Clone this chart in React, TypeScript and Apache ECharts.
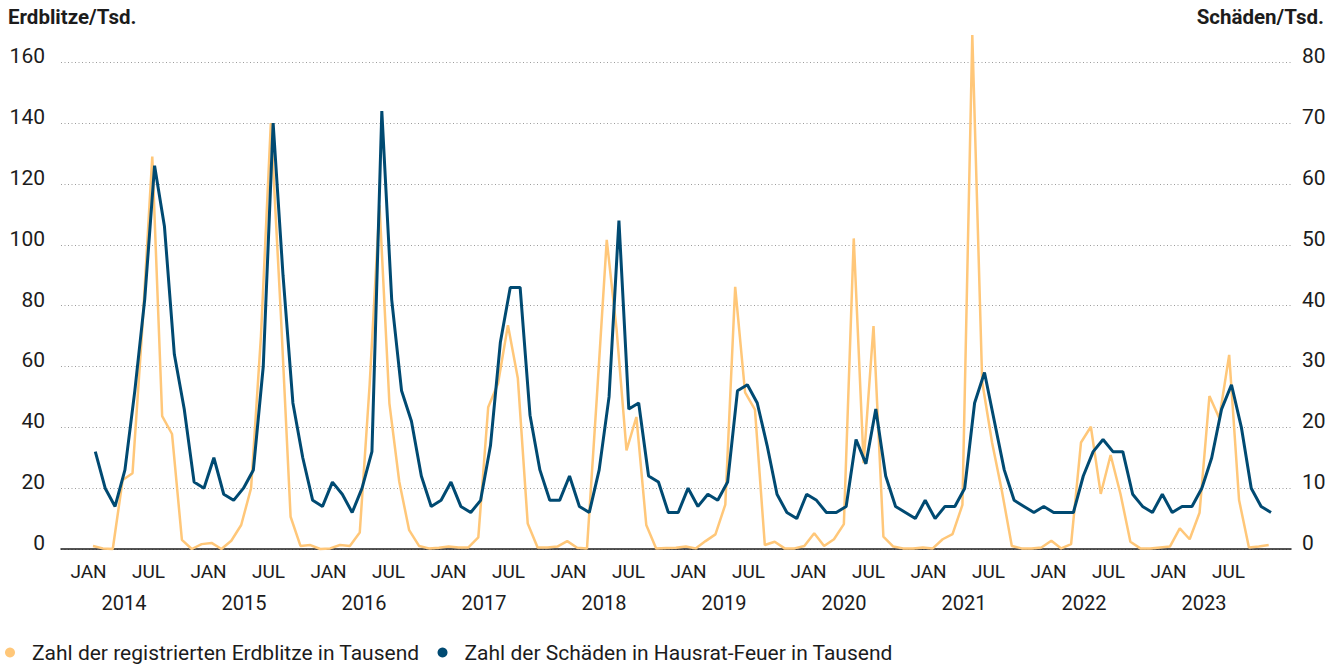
import React, { useEffect, useRef } from "react";
import * as echarts from "echarts";

// ---- data (thousands per month, Jan 2014 – Dec 2023) ----
const years = [2014, 2015, 2016, 2017, 2018, 2019, 2020, 2021, 2022, 2023];
const monthNames = ["JAN", "FEB", "MRZ", "APR", "MAI", "JUN", "JUL", "AUG", "SEP", "OKT", "NOV", "DEZ"];

const erdblitzeByYear = [
  [1.0, 0.2, 0.0, 22.7, 24.9, 73, 129, 43.7, 37.8, 3.0, 0.0, 1.6],
  [2.0, 0.0, 2.7, 7.9, 20.0, 70, 140, 78, 10.6, 1.0, 1.3, 0.0],
  [0.2, 1.3, 1.0, 5.4, 54, 113, 47.9, 22.1, 6.2, 1.0, 0.2, 0.4],
  [0.8, 0.5, 0.5, 3.8, 46.6, 54.5, 73.6, 56.1, 8.4, 0.5, 0.5, 0.8],
  [2.6, 0.4, 0.2, 50, 101.6, 72, 32.4, 43.4, 7.9, 0.2, 0.3, 0.4],
  [0.8, 0.2, 2.6, 4.8, 14.6, 86.2, 51.5, 45.8, 1.3, 2.4, 0.2, 0.2],
  [1.0, 5.2, 1.0, 3.2, 8.2, 102.1, 28.2, 73.3, 4.1, 0.8, 0.2, 0.2],
  [0.5, 0.2, 3.2, 4.9, 14.5, 169, 55, 35, 19, 1.0, 0.2, 0.2],
  [0.5, 2.7, 0.2, 1.6, 35.0, 40.2, 18.1, 30.9, 18.1, 2.4, 0.2, 0.2],
  [0.5, 0.8, 6.8, 3.2, 11.9, 50.3, 43.0, 63.8, 16.1, 0.5, 0.8, 1.3],
];

const schaedenByYear = [
  [16, 10, 7, 13, 26, 41, 63, 53, 32, 23, 11, 10],
  [15, 9, 8, 10, 13, 30, 70, 45, 24, 15, 8, 7],
  [11, 9, 6, 10, 16, 72, 41, 26, 21, 12, 7, 8],
  [11, 7, 6, 8, 17, 34, 43, 43, 22, 13, 8, 8],
  [12, 7, 6, 13, 25, 54, 23, 24, 12, 11, 6, 6],
  [10, 7, 9, 8, 11, 26, 27, 24, 17, 9, 6, 5],
  [9, 8, 6, 6, 7, 18, 14, 23, 12, 7, 6, 5],
  [8, 5, 7, 7, 10, 24, 29, 21, 13, 8, 7, 6],
  [7, 6, 6, 6, 12, 16, 18, 16, 16, 9, 7, 6],
  [9, 6, 7, 7, 10, 15, 23, 27, 20, 10, 7, 6],
];

const leftTicks = { min: 0, max: 160, step: 20 };
const rightTicks = { min: 0, max: 80, step: 10 };

const nameErdblitze = "Zahl der registrierten Erdblitze in Tausend";
const nameSchaeden = "Zahl der Schäden in Hausrat-Feuer in Tausend";

// ---- derived ----
const months = years.flatMap((y) => monthNames.map((m) => `${m} ${y}`));
const erdblitze = erdblitzeByYear.flat();
const schaeden = schaedenByYear.flat();
const halfYearLabelPos = years.flatMap((_, k) => [k * 12, k * 12 + 6]);
const yearLabelPos = years.map((_, k) => k * 12 + 3.55);

const FONT = 'Roboto, "Noto Sans", sans-serif';
const ORANGE = "#FFC779";
const BLUE = "#004A72";
const TEXT = "#1c1c1c";

export default function App() {
  const ref = useRef<HTMLDivElement>(null);

  useEffect(() => {
    if (!ref.current) return;
    const chart = echarts.init(ref.current, null, { renderer: "svg" });
    const gridTop = 62.3;
    const gridBottom = 117;
    const option: any = {
      animation: false,
      backgroundColor: "#ffffff",
      textStyle: { fontFamily: FONT },
      title: [
        {
          text: "Erdblitze/Tsd.",
          left: 8,
          top: 6,
          padding: 0,
          textStyle: { fontFamily: FONT, fontSize: 20.5, fontWeight: "bold", color: TEXT },
        },
        {
          text: "Schäden/Tsd.",
          right: 19,
          top: 6,
          padding: 0,
          textStyle: { fontFamily: FONT, fontSize: 20.5, fontWeight: "bold", color: TEXT },
        },
      ],
      legend: {
        left: 5,
        top: 642,
        padding: 0,
        itemWidth: 20,
        itemHeight: 10,
        itemGap: 18,
        icon: "circle",
        textStyle: { fontFamily: FONT, fontSize: 21, color: TEXT, padding: [0, 0, 0, 7] },
        data: [nameErdblitze, nameSchaeden],
      },
      grid: [
        { left: 95.3, right: 72, top: gridTop, bottom: gridBottom },
        { left: 93, right: 74.3, top: gridTop, bottom: gridBottom },
        { left: 61, right: 52, top: gridTop, bottom: gridBottom },
      ],
      xAxis: [
        { gridIndex: 0, type: "category", data: months, boundaryGap: false, show: false },
        { gridIndex: 1, type: "category", data: months, boundaryGap: false, show: false },
        {
          gridIndex: 2,
          type: "value",
          position: "bottom",
          min: -2.75,
          max: 120.25,
          axisLine: { show: true, onZero: false, lineStyle: { color: TEXT, width: 1.5 } },
          axisTick: { show: false },
          splitLine: { show: false },
          axisLabel: {
            customValues: halfYearLabelPos,
            formatter: (v: number) => (Math.round(v) % 12 === 0 ? "JAN" : "JUL"),
            fontFamily: FONT,
            fontSize: 19,
            color: TEXT,
            margin: 13,
          },
        },
        {
          gridIndex: 2,
          type: "value",
          position: "bottom",
          min: -2.75,
          max: 120.25,
          axisLine: { show: false },
          axisTick: { show: false },
          splitLine: { show: false },
          axisLabel: {
            customValues: yearLabelPos,
            formatter: (v: number) => String(years[Math.floor(v / 12)]),
            fontFamily: FONT,
            fontSize: 20,
            color: TEXT,
            margin: 44,
          },
        },
      ],
      yAxis: [
        { gridIndex: 0, type: "value", min: rightTicks.min, max: rightTicks.max, show: false },
        { gridIndex: 1, type: "value", min: leftTicks.min, max: leftTicks.max, show: false },
        {
          gridIndex: 2,
          type: "value",
          position: "left",
          min: leftTicks.min,
          max: leftTicks.max,
          interval: leftTicks.step,
          axisLine: { show: false },
          axisTick: { show: false },
          splitLine: { show: true, lineStyle: { type: [1, 2.5], color: "#9c9c9c", width: 1 } },
          axisLabel: {
            fontFamily: FONT,
            fontSize: 21,
            color: TEXT,
            margin: 16,
            verticalAlign: "bottom",
            lineHeight: 12,
          },
        },
        {
          gridIndex: 2,
          type: "value",
          position: "right",
          min: rightTicks.min,
          max: rightTicks.max,
          interval: rightTicks.step,
          axisLine: { show: false },
          axisTick: { show: false },
          splitLine: { show: false },
          axisLabel: {
            fontFamily: FONT,
            fontSize: 21,
            color: TEXT,
            margin: 11,
            verticalAlign: "bottom",
            lineHeight: 12,
          },
        },
      ],
      series: [
        {
          name: nameErdblitze,
          type: "line",
          xAxisIndex: 1,
          yAxisIndex: 1,
          data: erdblitze,
          symbol: "none",
          clip: false,
          itemStyle: { color: ORANGE },
          lineStyle: { color: ORANGE, width: 2.5 },
          z: 3,
        },
        {
          name: nameSchaeden,
          type: "line",
          xAxisIndex: 0,
          yAxisIndex: 0,
          data: schaeden,
          symbol: "none",
          clip: false,
          itemStyle: { color: BLUE },
          lineStyle: { color: BLUE, width: 3 },
          z: 4,
        },
      ],
    };
    chart.setOption(option);
    return () => chart.dispose();
  }, []);

  return (
    <div
      ref={ref}
      style={{ position: "fixed", left: 0, top: 0, width: 1343, height: 666, background: "#fff" }}
    />
  );
}
